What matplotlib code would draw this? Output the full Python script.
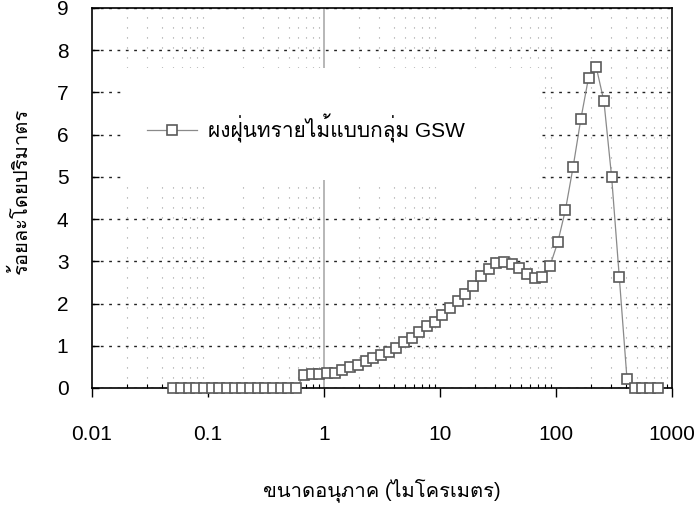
import matplotlib
matplotlib.use('Agg')
import matplotlib.pyplot as plt
import matplotlib.font_manager as fm
from matplotlib.ft2font import FT2Font
from matplotlib.patches import Rectangle
from matplotlib.ticker import LogLocator, NullFormatter, FixedLocator, FixedFormatter

# find an installed font that has Thai glyphs
thai_font = None
for f in fm.fontManager.ttflist:
    try:
        if 0x0E01 in FT2Font(f.fname).get_charmap():
            thai_font = f.name
            break
    except Exception:
        pass

families = ['Liberation Sans']
if thai_font:
    families.append(thai_font)
families.append('DejaVu Sans')
plt.rcParams['font.family'] = families

# particle size (micron) and volume percent
sizes = [0.05, 0.058, 0.0679, 0.0791, 0.0921, 0.1073, 0.125, 0.1456, 0.1697, 0.1977,
         0.2303, 0.2683, 0.3125, 0.3641, 0.4242, 0.4941, 0.5757, 0.6707, 0.7813, 0.9103,
         1.06, 1.24, 1.44, 1.68, 1.95, 2.28, 2.65, 3.09, 3.60, 4.19,
         4.88, 5.69, 6.63, 7.72, 9.00, 10.48, 12.21, 14.22, 16.57, 19.31,
         22.49, 26.20, 30.53, 35.56, 41.43, 48.27, 56.23, 65.51, 76.32, 88.91,
         103.58, 120.67, 140.58, 163.77, 190.80, 222.28, 258.95, 301.68, 351.46, 409.45,
         477.01, 555.71, 647.41, 754.23]
volume = [0, 0, 0, 0, 0, 0, 0, 0, 0, 0,
          0, 0, 0, 0, 0, 0, 0, 0.30, 0.32, 0.33,
          0.35, 0.36, 0.43, 0.49, 0.55, 0.63, 0.70, 0.77, 0.85, 0.94,
          1.08, 1.18, 1.32, 1.46, 1.57, 1.72, 1.90, 2.05, 2.23, 2.42,
          2.65, 2.82, 2.95, 2.98, 2.93, 2.85, 2.69, 2.61, 2.64, 2.90,
          3.45, 4.22, 5.24, 6.37, 7.35, 7.60, 6.79, 5.00, 2.62, 0.21,
          0, 0, 0, 0]

series_name = 'ผงฝุ่นทรายไม้แบบกลุ่ม GSW'
x_title = 'ขนาดอนุภาค (ไมโครเมตร)'
y_title = 'ร้อยละโดยปริมาตร'
x_ticks = [0.01, 0.1, 1, 10, 100, 1000]
x_labels = ['0.01', '0.1', '1', '10', '100', '1000']

fig = plt.figure(figsize=(6.96, 5.05), dpi=100)
ax = fig.add_axes([0.1322, 0.2317, 0.8333, 0.7525])

ax.plot(sizes, volume, color='#8a8a8a', linewidth=0.9, marker='s', markersize=7.5,
        markerfacecolor='white', markeredgecolor='#5a5a5a', markeredgewidth=1.2,
        label=series_name, zorder=3, clip_on=False)

ax.set_xscale('log')
ax.set_xlim(0.01, 1000)
ax.set_ylim(0, 9)
ax.xaxis.set_major_locator(FixedLocator(x_ticks))
ax.xaxis.set_major_formatter(FixedFormatter(x_labels))
ax.xaxis.set_minor_locator(LogLocator(base=10, subs=range(2, 10), numticks=20))
ax.xaxis.set_minor_formatter(NullFormatter())
ax.set_yticks(range(0, 10))

ax.set_axisbelow(True)
ax.grid(axis='y', which='major', color='#222222', linestyle=(0, (2, 4)), linewidth=1.0)
ax.grid(axis='x', which='minor', color='#9a9a9a', linestyle=(0, (1, 8)), linewidth=0.8)
ax.axvline(1, color='#aaaaaa', linewidth=1.2, zorder=0.6)

# white block behind the legend hides the grid there
ax.add_patch(Rectangle((0.053, 0.547), 0.718, 0.295, transform=ax.transAxes,
                       facecolor='white', edgecolor='none', zorder=1))

ax.tick_params(axis='x', which='major', direction='out', length=6.5, width=1, pad=20,
               labelsize=15, colors='black')
ax.tick_params(axis='x', which='minor', direction='in', length=3, width=0.8)
ax.tick_params(axis='y', which='major', direction='in', length=5, width=1,
               labelsize=15)
ax.yaxis.set_tick_params(pad=17)
for s in ax.spines.values():
    s.set_linewidth(1.2)
    s.set_color('black')

ax.set_xlabel(x_title, fontsize=14.5)
ax.xaxis.set_label_coords(0.5, -0.27)
ax.xaxis.label.set_va('center')
ax.set_ylabel(y_title, fontsize=14.5)
ax.yaxis.set_label_coords(-0.123, 0.52)
ax.yaxis.label.set_va('center')

ax.legend(loc='center left', bbox_to_anchor=(0.095, 0.684), frameon=False,
          borderaxespad=0, borderpad=0, handlelength=2.4, handletextpad=0.5,
          fontsize=15)

fig.savefig('out.png', dpi=100)
